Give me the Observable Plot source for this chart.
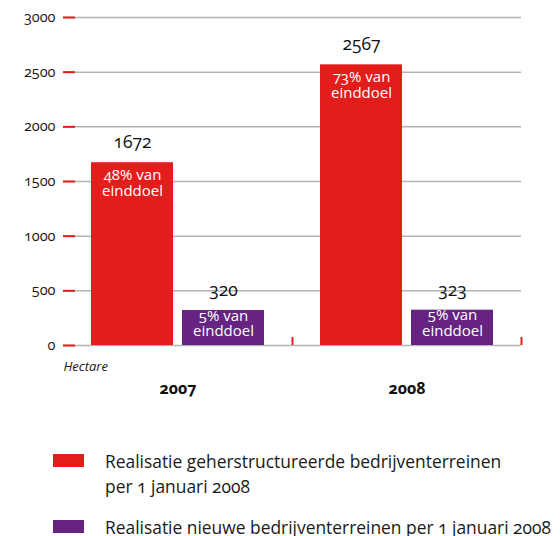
<!DOCTYPE html>
<html>
<head>
<meta charset="utf-8">
<script src="https://cdn.jsdelivr.net/npm/d3@7"></script>
<script src="https://cdn.jsdelivr.net/npm/@observablehq/plot@0.6"></script>
<style>
  html, body { margin: 0; padding: 0; background: #fff; }
  #wrap { position: relative; width: 560px; height: 536px; overflow: hidden; font-family: "Open Sans", sans-serif; }
  #wrap svg text { font-variant-numeric: oldstyle-nums; }
  .legend-item { position: absolute; left: 0; font-size: 17.4px; line-height: 25px; color: #1a1a1a; font-variant-numeric: oldstyle-nums; }
  .legend-item .sw { position: absolute; left: 53px; width: 31px; height: 13px; }
  .legend-item .tx { position: absolute; left: 105px; white-space: nowrap; }
</style>
</head>
<body>
<div id="wrap"></div>
<script>
// ---- data ----
const years = ["2007", "2008"];
const seriesKeys = ["geherstructureerd", "nieuw"];
const seriesLabels = [
  "Realisatie geherstructureerde bedrijventerreinen\nper 1 januari 2008",
  "Realisatie nieuwe bedrijventerreinen per 1 januari 2008"
];
const valuesGeherstructureerd = [1672, 2567];
const valuesNieuw = [320, 323];
const pctGeherstructureerd = [48, 73];
const pctNieuw = [5, 5];
const yTicks = [0, 500, 1000, 1500, 2000, 2500, 3000];
const colors = ["#e31d1b", "#662382"];
const unitLabel = "Hectare";

const red = colors[0];
const data = years.flatMap((yr, i) => [
  {year: yr, key: seriesKeys[0], value: valuesGeherstructureerd[i], pct: pctGeherstructureerd[i]},
  {year: yr, key: seriesKeys[1], value: valuesNieuw[i], pct: pctNieuw[i]}
]);
const dataA = data.filter(d => d.key === seriesKeys[0]);
const dataB = data.filter(d => d.key === seriesKeys[1]);

const chart = Plot.plot({
  width: 560,
  height: 420,
  marginLeft: 63,
  marginRight: 39,
  marginTop: 17,
  marginBottom: 75,
  style: {fontFamily: "'Open Sans', sans-serif", background: "#fff", overflow: "visible"},
  fx: {domain: years, padding: 0, label: null},
  x: {domain: seriesKeys, paddingInner: 0.0978, paddingOuter: 0.2935, align: 0.5, axis: null},
  y: {domain: [0, 3000], label: null},
  color: {domain: seriesKeys, range: colors},
  marks: [
    Plot.gridY(yTicks, {stroke: "#b3b3b3", strokeOpacity: 1, strokeWidth: 1.5}),
    Plot.barY(data, {fx: "year", x: "key", y: "value", fill: "key"}),
    Plot.axisY(yTicks, {anchor: "left", tickSize: 12, dx: 12, text: null, stroke: red, strokeWidth: 2, label: null}),
    Plot.axisY(yTicks, {anchor: "left", tickSize: 0, tickPadding: 8, fontSize: 14.5, fill: "#1a1a1a", label: null, tickFormat: d => String(d)}),
    Plot.axisFx({anchor: "bottom", tickSize: 8, dy: -8, dx: 114.5, text: null, stroke: red, strokeWidth: 2, label: null}),
    Plot.axisFx({anchor: "bottom", tickSize: 0, tickPadding: 37, fontSize: 16, fontWeight: "bold", fill: "#111", label: null}),
    Plot.text(data, {fx: "year", x: "key", y: "value", text: d => String(d.value), dy: -20, lineAnchor: "middle", fontSize: 17.5, fill: "#111"}),
    Plot.text(dataA, {fx: "year", x: "key", y: "value", text: d => `${d.pct}% van\neinddoel`, lineAnchor: "top", dy: 6, lineHeight: 1.05, fontSize: 15, fill: "#fff"}),
    Plot.text(dataB, {fx: "year", x: "key", y: "value", text: d => `${d.pct}% van\neinddoel`, lineAnchor: "top", dy: -1, lineHeight: 1.05, fontSize: 15, fill: "#fff"}),
    Plot.text([{year: years[0], t: unitLabel}], {fx: "year", text: "t", frameAnchor: "bottom-left", dy: 21, textAnchor: "start", lineAnchor: "middle", fontStyle: "italic", fontSize: 13, fill: "#1a1a1a"})
  ]
});

const wrap = document.getElementById("wrap");
wrap.appendChild(chart);

const legendTops = [449, 515];
seriesKeys.forEach((k, i) => {
  const item = document.createElement("div");
  item.className = "legend-item";
  item.style.top = legendTops[i] + "px";
  const sw = document.createElement("div");
  sw.className = "sw";
  sw.style.top = "5px";
  sw.style.background = colors[i];
  const tx = document.createElement("div");
  tx.className = "tx";
  tx.innerHTML = seriesLabels[i].split("\n").join("<br>");
  item.appendChild(sw);
  item.appendChild(tx);
  wrap.appendChild(item);
});
</script>
</body>
</html>
